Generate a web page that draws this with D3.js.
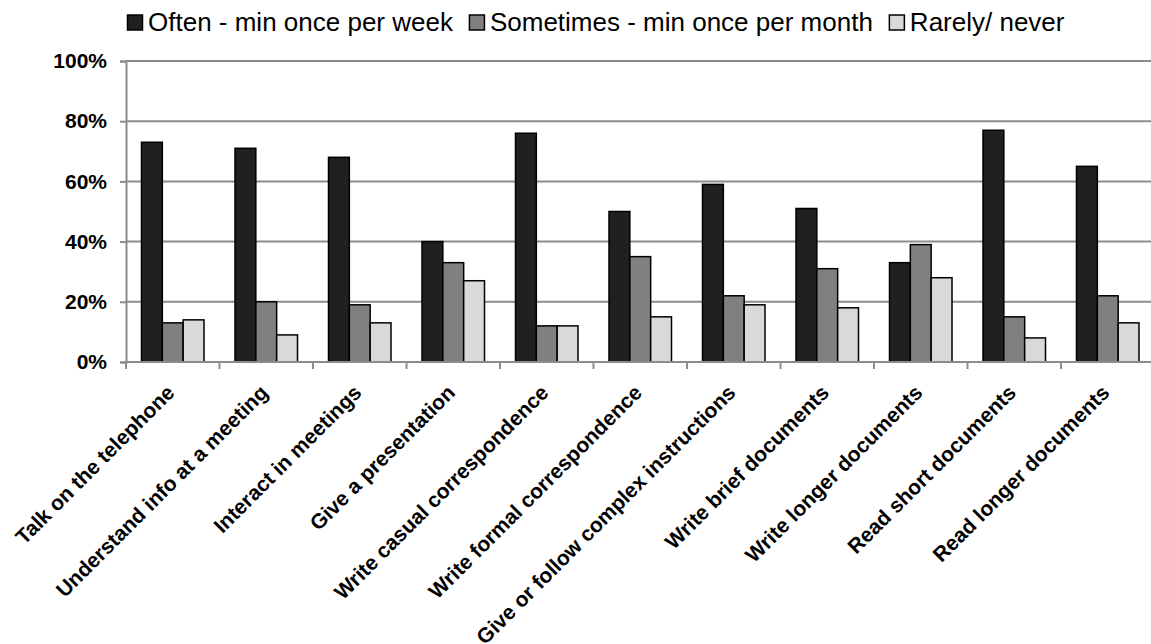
<!DOCTYPE html>
<html>
<head>
<meta charset="utf-8">
<script src="https://cdn.jsdelivr.net/npm/d3@7"></script>
<style>
  body { margin: 0; background: #fff; }
  svg { display: block; font-family: "Liberation Sans", Arial, sans-serif; }
</style>
</head>
<body>
<svg id="chart" width="1151" height="644"></svg>
<script>
const categories = [
  'Talk on the telephone', 'Understand info at a meeting', 'Interact in meetings',
  'Give a presentation', 'Write casual correspondence', 'Write formal correspondence',
  'Give or follow complex instructions', 'Write brief documents', 'Write longer documents',
  'Read short documents', 'Read longer documents'
];
const seriesNames = ['Often - min once per week', 'Sometimes - min once per month', 'Rarely/ never'];
const often     = [73, 71, 68, 40, 76, 50, 59, 51, 33, 77, 65];
const sometimes = [13, 20, 19, 33, 12, 35, 22, 31, 39, 15, 22];
const rarely    = [14,  9, 13, 27, 12, 15, 19, 18, 28,  8, 13];
const yTicks = [0, 20, 40, 60, 80, 100];
const colors = ['#202020', '#808080', '#d9d9d9'];

const series = [often, sometimes, rarely];
const svg = d3.select('#chart');

const plotLeft = 126, plotRight = 1154.5, plotTop = 61, plotBottom = 362;

const x = d3.scaleBand().domain(categories).range([plotLeft, plotRight]).padding(0);
const xs = d3.scaleBand().domain(d3.range(3)).range([15.5, x.bandwidth() - 15.5]).padding(0);
const y = d3.scaleLinear().domain([0, 100]).range([plotBottom, plotTop]);

// gridlines
svg.append('g')
  .selectAll('line')
  .data(yTicks.filter(d => d > 0))
  .enter().append('line')
  .attr('x1', plotLeft).attr('x2', plotRight)
  .attr('y1', d => y(d)).attr('y2', d => y(d))
  .attr('stroke', '#8c8c8c').attr('stroke-width', 2);

// y axis
const yAxis = svg.append('g')
  .attr('transform', `translate(${plotLeft},0)`)
  .call(d3.axisLeft(y).tickValues(yTicks).tickSize(6).tickPadding(13).tickFormat(d => d + '%'));
yAxis.select('.domain').attr('stroke', '#8c8c8c').attr('stroke-width', 2);
yAxis.selectAll('.tick line').attr('stroke', '#8c8c8c').attr('stroke-width', 2);
yAxis.selectAll('.tick text')
  .attr('font-size', 21).attr('font-weight', 'bold').attr('fill', '#000')
  .attr('font-family', '"Liberation Sans", Arial, sans-serif');

// bars
const groups = svg.append('g')
  .selectAll('g')
  .data(categories)
  .enter().append('g')
  .attr('transform', c => `translate(${x(c)},0)`);

groups.selectAll('rect')
  .data((c, i) => series.map((s, k) => ({ k, v: s[i] })))
  .enter().append('rect')
  .attr('x', d => xs(d.k))
  .attr('y', d => y(d.v))
  .attr('width', xs.bandwidth())
  .attr('height', d => y(0) - y(d.v))
  .attr('fill', d => colors[d.k])
  .attr('stroke', '#000')
  .attr('stroke-width', 1.5);

// x axis
const xAxis = svg.append('g')
  .attr('transform', `translate(0,${plotBottom})`);
xAxis.append('line')
  .attr('x1', plotLeft).attr('x2', plotRight)
  .attr('stroke', '#8c8c8c').attr('stroke-width', 2);
xAxis.selectAll('line.tick')
  .data(categories.concat(['end']))
  .enter().append('line')
  .attr('class', 'tick')
  .attr('x1', (c, i) => plotLeft + i * x.step()).attr('x2', (c, i) => plotLeft + i * x.step())
  .attr('y1', 0).attr('y2', 7)
  .attr('stroke', '#8c8c8c').attr('stroke-width', 2);
xAxis.selectAll('text')
  .data(categories)
  .enter().append('text')
  .attr('transform', c => `translate(${x(c) + x.bandwidth() / 2 + 3},32) rotate(-45)`)
  .attr('text-anchor', 'end')
  .attr('font-size', 21).attr('font-weight', 'bold')
  .text(c => c);

// legend
const legend = svg.append('g').attr('transform', 'translate(127,31)');
let lx = 0;
seriesNames.forEach((name, k) => {
  const g = legend.append('g').attr('transform', `translate(${lx},0)`);
  g.append('rect')
    .attr('x', 0.5).attr('y', -16).attr('width', 15).attr('height', 15)
    .attr('fill', colors[k]).attr('stroke', '#000').attr('stroke-width', 1.5);
  const t = g.append('text')
    .attr('x', 21).attr('y', 0)
    .attr('font-size', 26)
    .text(name);
  lx += 21 + t.node().getComputedTextLength() + 16;
});
</script>
</body>
</html>
